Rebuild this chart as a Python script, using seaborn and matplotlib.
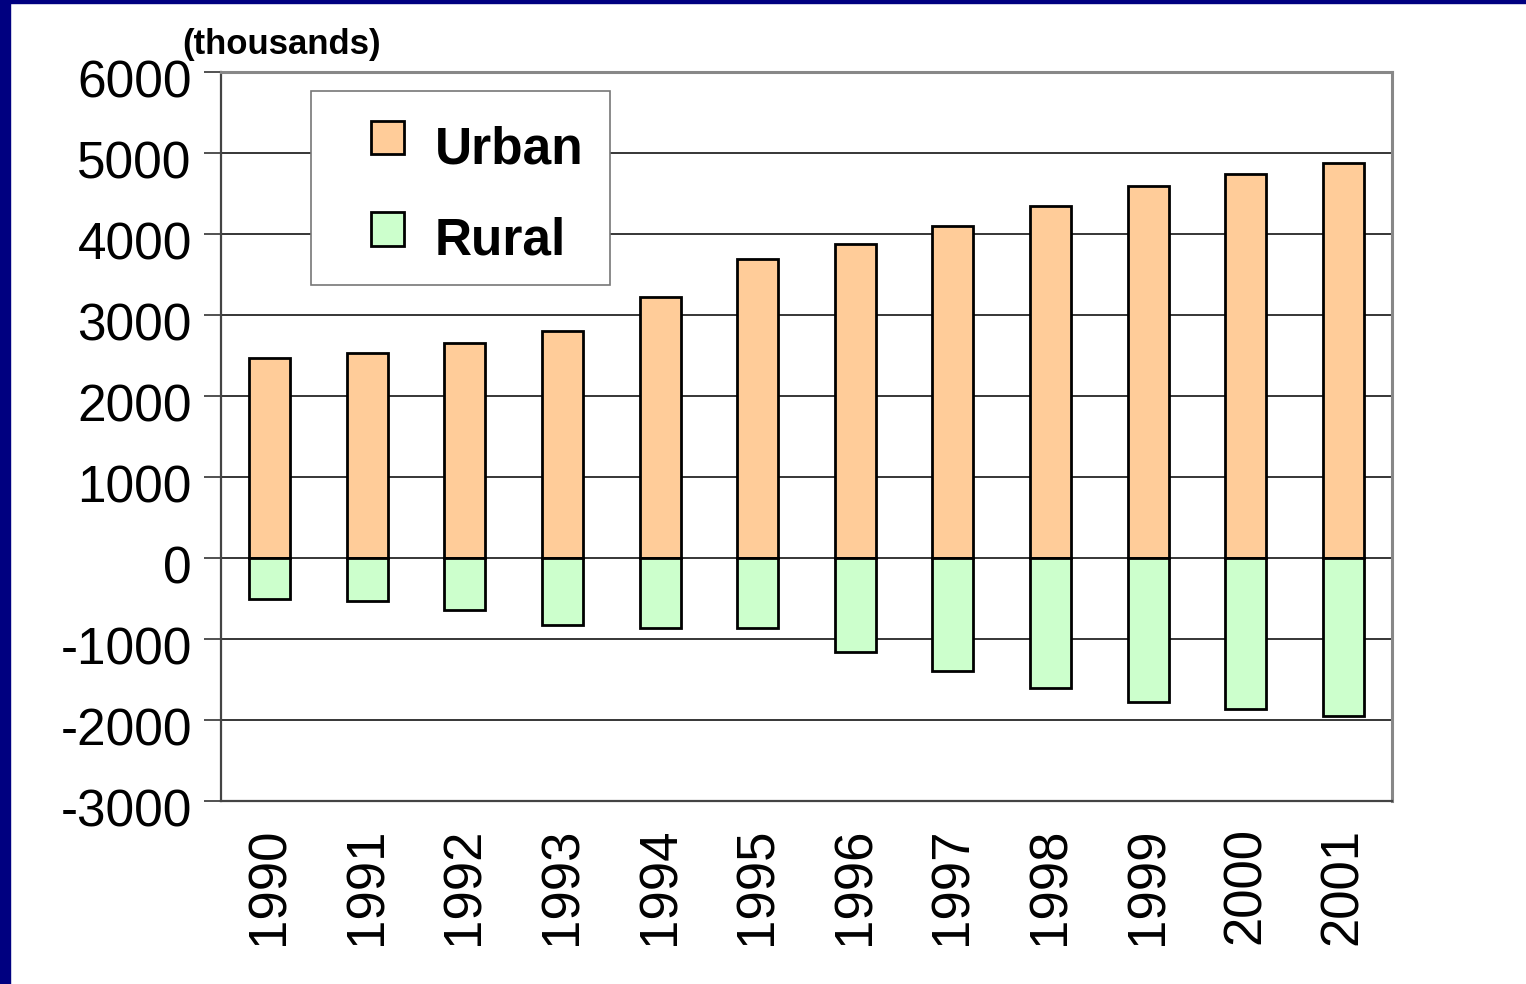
import matplotlib
matplotlib.use('Agg')
import matplotlib.pyplot as plt
import matplotlib.transforms as mtransforms
from matplotlib.patches import Rectangle, Patch
from matplotlib.legend_handler import HandlerPatch
import pandas as pd
import seaborn as sns

years = ['1990', '1991', '1992', '1993', '1994', '1995',
         '1996', '1997', '1998', '1999', '2000', '2001']
urban = [2470, 2530, 2650, 2800, 3220, 3690, 3880, 4100, 4345, 4590, 4740, 4880]
rural = [-505, -530, -640, -830, -865, -865, -1160, -1395, -1605, -1780, -1865, -1950]
y_ticks = [-3000, -2000, -1000, 0, 1000, 2000, 3000, 4000, 5000, 6000]

urban_color = '#FFCC99'
rural_color = '#CCFFCC'

sns.set_style('white')
plt.rcParams['font.family'] = ['Liberation Sans', 'DejaVu Sans']
plt.rcParams['text.color'] = 'black'
plt.rcParams['xtick.color'] = 'black'
plt.rcParams['ytick.color'] = 'black'


def square_patch(legend, orig_handle, xdescent, ydescent, width, height, fontsize):
    # small square pushed to the right end of the handle box
    s = 0.65 * fontsize
    return Rectangle((-xdescent + width - s, -ydescent + (height - s) / 2), s, s)


df = pd.DataFrame({'year': years, 'urban': urban, 'rural': rural})

fig = plt.figure(figsize=(15.26, 9.84), dpi=100)
ax = fig.add_axes([221 / 1526, 1 - 801 / 984, 1171 / 1526, 729 / 984])

# navy frame of the slide
fig.patches.append(Rectangle((0, 0), 10 / 1526, 1, transform=fig.transFigure,
                             color='#000080', zorder=0))
fig.patches.append(Rectangle((0, 1 - 3 / 984), 1, 3 / 984, transform=fig.transFigure,
                             color='#000080', zorder=0))

for y in y_ticks[1:-1]:
    ax.axhline(y, color='black', lw=1.1, zorder=0)

sns.barplot(data=df, x='year', y='urban', color=urban_color, width=0.42,
            edgecolor='black', linewidth=2, saturation=1, ax=ax, zorder=2)
sns.barplot(data=df, x='year', y='rural', color=rural_color, width=0.42,
            edgecolor='black', linewidth=2, saturation=1, ax=ax, zorder=2)

ax.set_ylim(-3000, 6000)
ax.set_xlim(-0.5, len(years) - 0.5)
ax.set_yticks(y_ticks)
ax.set_yticklabels([str(v) for v in y_ticks], fontsize=37)
ax.set_xlabel('')
ax.set_ylabel('')

ax.set_xticks(range(len(years)))
ax.set_xticklabels(years, rotation=90, fontsize=38)
ax.set_xticks([i - 0.5 for i in range(len(years) + 1)], minor=True)
ax.tick_params(axis='x', which='major', length=0, pad=19)
ax.tick_params(axis='x', which='minor', length=12, width=1.2, color='#333333', direction='out')
ax.tick_params(axis='y', length=12, width=1.2, color='#333333', direction='out', pad=9, left=True)

offset = mtransforms.ScaledTranslation(0, -7 / 100, fig.dpi_scale_trans)
for lab in ax.get_yticklabels():
    lab.set_transform(lab.get_transform() + offset)

for side in ['left', 'bottom']:
    ax.spines[side].set_color('#444444')
    ax.spines[side].set_linewidth(1.6)
for side in ['top', 'right']:
    ax.spines[side].set_color('#888888')
    ax.spines[side].set_linewidth(2.2)

handles = [Patch(facecolor=urban_color, edgecolor='black', linewidth=2),
           Patch(facecolor=rural_color, edgecolor='black', linewidth=2)]
leg = ax.legend(handles, ['Urban', 'Rural'], loc='upper left',
                bbox_to_anchor=((311 - 221) / 1171, (801 - 91) / 729),
                prop={'weight': 'bold', 'size': 37}, frameon=True, fancybox=False,
                handler_map={Patch: HandlerPatch(patch_func=square_patch)},
                handlelength=1.29, handleheight=0.7, handletextpad=0.6,
                labelspacing=0.82, borderpad=0.52, borderaxespad=0)
leg.get_frame().set_edgecolor('#777777')
leg.get_frame().set_linewidth(1.2)
leg.get_frame().set_alpha(1)
for t in leg.get_texts():
    t.set_y(-8)

fig.text(182 / 1526, 1 - 54 / 984, '(thousands)', fontsize=25, fontweight='bold',
         ha='left', va='baseline')

fig.savefig('out.png', dpi=100)
